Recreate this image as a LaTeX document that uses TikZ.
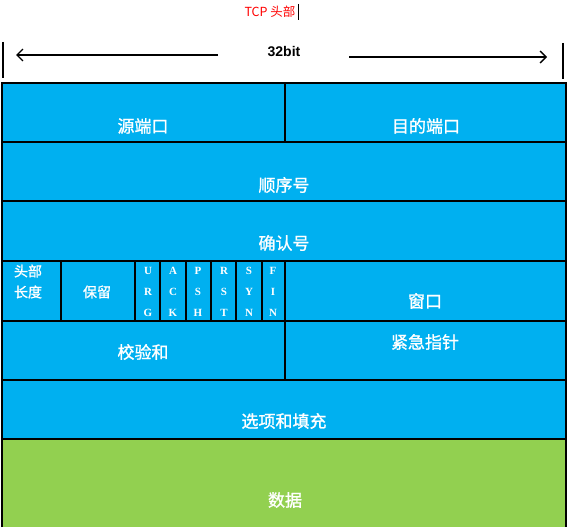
\documentclass[tikz,border=0pt]{standalone}
\usepackage{fontspec}
\setmainfont{Liberation Sans}
\newfontfamily\cjk{Noto Sans CJK SC}
\newfontfamily\cjkb[FakeBold=1.2]{Noto Sans CJK SC}
\newfontfamily\flagfont{Liberation Serif}
\usetikzlibrary{arrows.meta}
\definecolor{cellblue}{HTML}{00B0F0}
\definecolor{datagreen}{HTML}{92D050}
\tikzset{
  grid/.style={draw=black,line width=1.2pt},
  lbl/.style={text=white,font=\cjkb\fontsize{17}{19}\selectfont,inner sep=0pt},
  small/.style={text=white,font=\cjkb\fontsize{14}{16}\selectfont,inner sep=0pt},
  flg/.style={text=white,font=\flagfont\bfseries\fontsize{11}{12}\selectfont,inner sep=0pt},
  dimarrow/.style={line width=1.3pt,-{Straight Barb[length=6pt,width=12pt,line width=1.3pt]}},
}
\begin{document}
\begin{tikzpicture}[x=1pt,y=-1pt]
\useasboundingbox (0,0) rectangle (569,527);
% title
\node[text=red,font=\cjk\fontsize{12.5}{14}\selectfont,inner sep=0pt] (title) at (270,12) {TCP 头部};
\draw[line width=1.8pt] (298.5,4) -- (298.5,20);
% width marker
\node[font=\bfseries\fontsize{14}{16}\selectfont,inner sep=0pt] (bits) at (284,52) {32bit};
\coordinate (la) at (218,55);
\coordinate (lt) at (16,55);
\coordinate (ra) at (349,57);
\coordinate (rt) at (547,57);
\draw[dimarrow] (la) -- (lt);
\draw[dimarrow] (ra) -- (rt);
\coordinate (lk1) at (3,42); \coordinate (lk2) at (3,78);
\coordinate (rk1) at (563,43); \coordinate (rk2) at (563,79);
\draw[line width=1.2pt] (lk1) -- (lk2);
\draw[line width=1.2pt] (rk1) -- (rk2);
% fills
\fill[cellblue] (2,83) rectangle (566,439);
\fill[datagreen] (2,439) rectangle (566,527);
% grid
\draw[grid] (2,527) -- (2,83) -- (566,83) -- (566,527);
\foreach \y in {142,201,261,321,380,439} \draw[grid] (2,\y) -- (566,\y);
\draw[grid] (285,83) -- (285,142);
\draw[grid] (285,261) -- (285,380);
\foreach \x in {61,135,160,186,211,236,262} \draw[grid] (\x,261) -- (\x,321);
% labels
\node[lbl] (src) at (143,126) {源端口};
\node[lbl] (dst) at (426,126) {目的端口};
\node[lbl] (seq) at (284,185) {顺序号};
\node[lbl] (ack) at (284,243) {确认号};
\node[small] (hl1) at (28,271) {头部};
\node[small] (hl2) at (28,292) {长度};
\node[small] (rsv) at (97,292) {保留};
\node[flg] (u1) at (148,271) {U}; \node[flg] (u2) at (148,292) {R}; \node[flg] (u3) at (148,313) {G};
\node[flg] (a1) at (173,271) {A}; \node[flg] (a2) at (173,292) {C}; \node[flg] (a3) at (173,313) {K};
\node[flg] (p1) at (198,271) {P}; \node[flg] (p2) at (198,292) {S}; \node[flg] (p3) at (198,313) {H};
\node[flg] (r1) at (224,271) {R}; \node[flg] (r2) at (224,292) {S}; \node[flg] (r3) at (224,313) {T};
\node[flg] (s1) at (249,271) {S}; \node[flg] (s2) at (249,292) {Y}; \node[flg] (s3) at (249,313) {N};
\node[flg] (f1) at (273,271) {F}; \node[flg] (f2) at (273,292) {I}; \node[flg] (f3) at (273,313) {N};
\node[lbl] (win) at (425,301) {窗口};
\node[lbl] (chk) at (143,352) {校验和};
\node[lbl] (urg) at (425,342) {紧急指针};
\node[lbl] (opt) at (284,421) {选项和填充};
\node[lbl] (data) at (285,500) {数据};
\end{tikzpicture}
\end{document}
